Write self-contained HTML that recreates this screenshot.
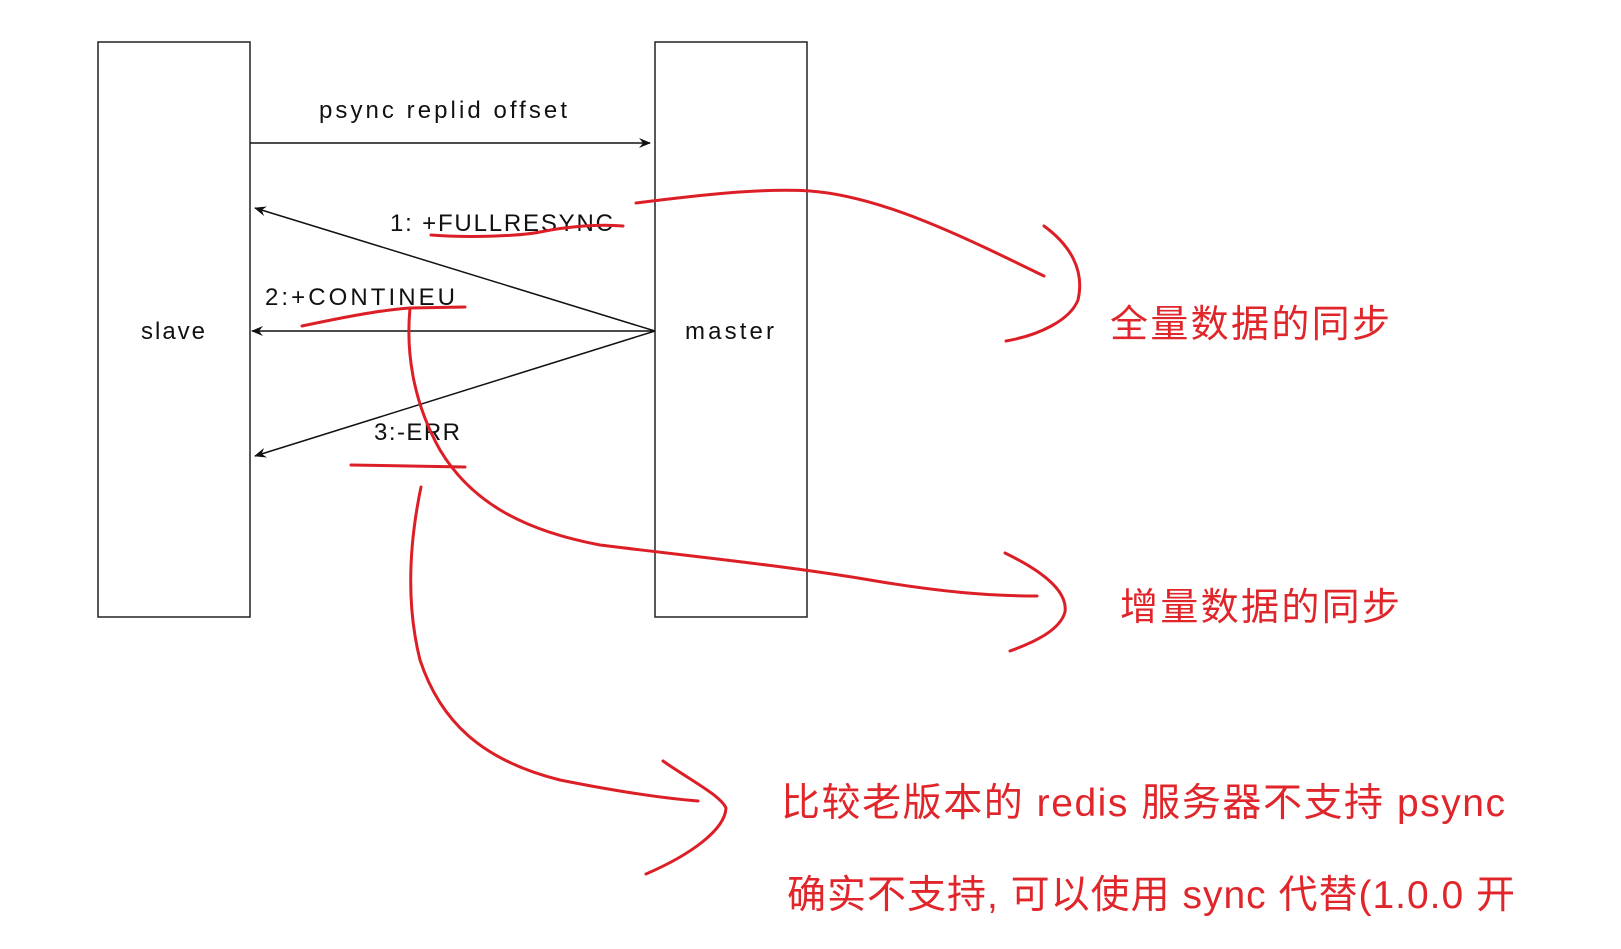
<!DOCTYPE html>
<html><head><meta charset="utf-8"><style>
html,body{margin:0;padding:0;background:#fff;}
svg{display:block}
.b{font-family:"Comic Sans MS","Liberation Sans",sans-serif;font-size:24px;fill:#111}
.r{font-family:"Liberation Sans","Noto Sans CJK SC",sans-serif;fill:#e0262b}
</style></head><body>
<svg width="1621" height="949" viewBox="0 0 1621 949" xmlns="http://www.w3.org/2000/svg">
<defs><marker id="a" markerWidth="12" markerHeight="10" refX="11" refY="5" orient="auto" markerUnits="userSpaceOnUse"><path d="M0,0 L12,5 L0,10 L4,5 Z" fill="#111"/></marker></defs>
<rect x="98" y="42" width="152" height="575" fill="none" stroke="#222" stroke-width="1.5"/>
<rect x="655" y="42" width="152" height="575" fill="none" stroke="#222" stroke-width="1.5"/>
<text class="b" x="141" y="339" textLength="64" lengthAdjust="spacing">slave</text>
<text class="b" x="685" y="339" textLength="89" lengthAdjust="spacing">master</text>
<text class="b" x="319" y="118" textLength="248" lengthAdjust="spacing">psync replid offset</text>
<line x1="250" y1="143" x2="650" y2="143" stroke="#111" stroke-width="1.5" marker-end="url(#a)"/>
<line x1="655" y1="331" x2="255" y2="208" stroke="#111" stroke-width="1.5" marker-end="url(#a)"/>
<line x1="655" y1="331" x2="252" y2="331" stroke="#111" stroke-width="1.5" marker-end="url(#a)"/>
<line x1="655" y1="331" x2="255" y2="456" stroke="#111" stroke-width="1.5" marker-end="url(#a)"/>
<text class="b" x="390" y="231" textLength="223" lengthAdjust="spacing">1: +FULLRESYNC</text>
<text class="b" x="265" y="305" textLength="190" lengthAdjust="spacing">2:+CONTINEU</text>
<text class="b" x="374" y="440" textLength="86" lengthAdjust="spacing">3:-ERR</text>
<g fill="none" stroke="#dc1f26" stroke-width="3" stroke-linecap="round">
<path d="M636,203 C700,195 760,188 810,191 C880,196 960,235 1044,276"/>
<path d="M1044,226 C1070,245 1085,270 1078,300 C1070,320 1040,335 1006,341"/>
<path d="M431,235 C470,238 520,236 540,232 C570,226 600,224 623,226"/>
<path d="M302,326 C340,318 380,310 410,308 L465,307"/>
<path d="M410,308 C406,350 412,400 440,450 C470,500 520,530 600,545 C680,555 780,565 870,580 C940,592 990,596 1037,596"/>
<path d="M1005,553 C1040,570 1068,590 1065,612 C1060,630 1035,642 1010,651"/>
<path d="M351,465 L465,467"/>
<path d="M421,487 C410,540 405,600 420,660 C440,720 480,760 560,780 C620,792 660,798 698,801"/>
<path d="M663,761 C690,780 720,795 726,808 C725,830 690,855 646,874"/>
</g>
<text class="r" x="1110" y="337" font-size="38" textLength="280" lengthAdjust="spacing">全量数据的同步</text>
<text class="r" x="1120" y="620" font-size="38" textLength="280" lengthAdjust="spacing">增量数据的同步</text>
<text class="r" x="781" y="816" font-size="39" textLength="724" lengthAdjust="spacing">比较老版本的 redis 服务器不支持 psync</text>
<text class="r" x="787" y="908" font-size="39" textLength="728" lengthAdjust="spacing">确实不支持, 可以使用 sync 代替(1.0.0 开</text>
</svg>
</body></html>
